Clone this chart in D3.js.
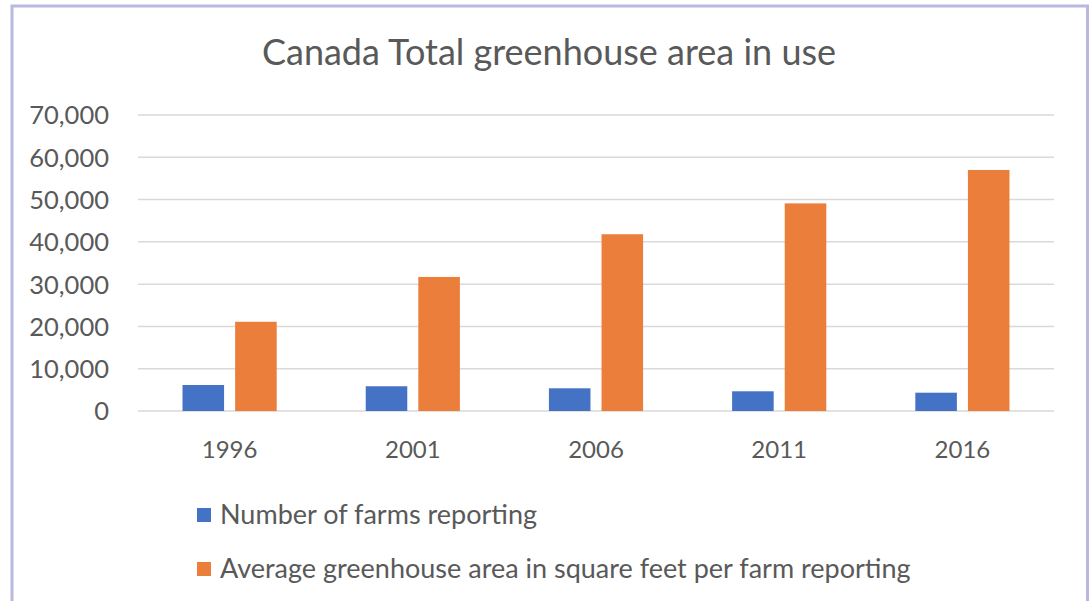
<!DOCTYPE html>
<html><head><meta charset="utf-8">
<script src="https://cdn.jsdelivr.net/npm/d3@7"></script>
<style>body{margin:0;background:#fff}svg{display:block}text{font-family:Lato,"Open Sans",sans-serif;fill:#595959}</style>
</head><body><svg id="c" width="1091" height="601"></svg>
<script>
const years = ["1996","2001","2006","2011","2016"];
const farms = [6150, 5850, 5370, 4660, 4330];
const avgArea = [21100, 31700, 41800, 49100, 57000];
const yTicks = [0,10000,20000,30000,40000,50000,60000,70000];
const seriesNames = ["Number of farms reporting","Average greenhouse area in square feet per farm reporting"];
const colors = ["#4472c4","#ea7e3a"];
const title = "Canada Total greenhouse area in use";

const svg = d3.select("#c");
svg.append("rect").attr("x",12).attr("y",6).attr("width",1075.5).attr("height",620)
  .attr("fill","none").attr("stroke","#b8b8e0").attr("stroke-width",3);

const L=138,R=1054,T=115,B=411;
const x = d3.scaleBand().domain(years).range([L,R]);
const x1 = d3.scaleBand().domain([0,1]).range([x.bandwidth()*0.243, x.bandwidth()*0.757]).paddingInner(0.21);
const y = d3.scaleLinear().domain([0,70000]).range([B,T]);

svg.append("text").attr("x",549).attr("y",65).attr("text-anchor","middle").attr("font-size",36).text(title);

const g = svg.append("g");
g.selectAll("line.grid").data(yTicks).join("line").attr("class","grid")
  .attr("x1",L).attr("x2",R).attr("y1",d=>y(d)).attr("y2",d=>y(d))
  .attr("stroke","#d9d9d9").attr("stroke-width",1.5);

const yAxis = d3.axisLeft(y).tickValues(yTicks).tickFormat(d3.format(",")).tickSize(0).tickPadding(0);
const ya = svg.append("g").attr("transform",`translate(109,0)`).call(yAxis);
ya.select(".domain").remove();
ya.selectAll("text").attr("font-size",25.5).attr("font-family","Lato").attr("fill","#595959").attr("dy","0.35em");

const data = [farms, avgArea];
data.forEach((vals,si)=>{
  g.selectAll("rect.s"+si).data(years).join("rect").attr("class","s"+si)
    .attr("x",d=>x(d)+x1(si)).attr("width",x1.bandwidth())
    .attr("y",(d,i)=>y(vals[i])).attr("height",(d,i)=>B-y(vals[i]))
    .attr("fill",colors[si]);
});

const xAxis = d3.axisBottom(x).tickSize(0).tickPadding(0);
const xa = svg.append("g").attr("transform",`translate(0,${B})`).call(xAxis);
xa.select(".domain").remove();
xa.selectAll("text").attr("font-size",24).attr("font-family","Lato").attr("fill","#595959").attr("dy","0").attr("y",47);

const leg = svg.append("g");
seriesNames.forEach((n,i)=>{
  const yy = 515 + i*54;
  leg.append("rect").attr("x",197).attr("y",yy-7).attr("width",14).attr("height",14).attr("fill",colors[i]);
  leg.append("text").attr("x",220).attr("y",yy).attr("dy","0.35em").attr("font-size",27).text(n);
});
</script></body></html>
